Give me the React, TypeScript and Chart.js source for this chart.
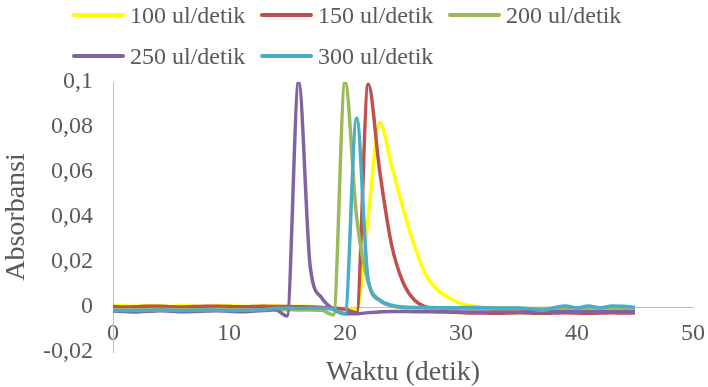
import React, { useEffect, useRef } from "react";
import { Chart, registerables } from "chart.js";

Chart.register(...registerables);

const times = [
  0, 1, 2, 3, 4, 5, 6, 7, 8, 9, 10, 11, 12, 13, 14, 15, 16, 17, 18, 19, 20, 21, 22,
  23, 24, 25, 26, 27, 28, 29, 30, 31, 32, 33, 34, 35, 36, 37, 38, 39, 40, 41, 42, 43, 44, 45,
];

const seriesNames = ["100 ul/detik", "150 ul/detik", "200 ul/detik", "250 ul/detik", "300 ul/detik"];
const seriesColors = ["#FFFF00", "#C0504D", "#9BBB59", "#8064A2", "#4BACC6"];

const yellow100 = [
  0.0008, 0.0005, 0.0003, 0.0006, 0.0004, 0.0002, 0.0006, 0.0003, 0.0002, 0.0005,
  0.0006, 0.0003, 0.0002, 0.0005, 0.0004, 0.0002, 0.0003, 0.0002, 0.0, -0.0005,
  -0.001, -0.001, 0.04, 0.082, 0.063, 0.044, 0.027, 0.014, 0.0075, 0.004,
  0.0015, 0.0005, -0.0003, -0.0012, -0.0015, -0.0016, -0.0017, -0.0017, -0.0018, -0.0017,
  -0.0018, -0.0018, -0.0017, -0.0018, -0.0018, -0.0018,
];

const red150 = [
  0.0002, 0.0, 0.0001, 0.0003, 0.0003, 0.0001, 0.0, 0.0002, 0.0003, 0.0003,
  0.0002, 0.0001, 0.0002, 0.0003, 0.0002, 0.0002, 0.0001, 0.0, -0.0002, -0.0005,
  -0.001, -0.0025, 0.099, 0.06, 0.028, 0.011, 0.003, 0.0, -0.0015, -0.0022,
  -0.0025, -0.0027, -0.0027, -0.0028, -0.0027, -0.0026, -0.0027, -0.0028, -0.0027, -0.0026,
  -0.0027, -0.0028, -0.0027, -0.0026, -0.0027, -0.0027,
];

const green200 = [
  -0.0012, -0.0012, -0.0013, -0.0012, -0.0011, -0.0012, -0.0013, -0.0012, -0.0012, -0.0011,
  -0.0012, -0.0013, -0.0012, -0.0012, -0.0011, -0.0012, -0.0013, -0.0013, -0.0015, -0.0035,
  0.1, 0.04, 0.011, 0.003, 0.0005, -0.0003, -0.0004, -0.0005, -0.0005, -0.0005,
  -0.0005, -0.0005, -0.0006, -0.0006, -0.0006, -0.0006, -0.0007, -0.0007, -0.0006, -0.0006,
  -0.0006, -0.0006, -0.0006, -0.0006, -0.0006, -0.0006,
];

const purple250 = [
  -0.0018, -0.002, -0.0022, -0.0019, -0.0017, -0.0019, -0.0021, -0.002, -0.0018, -0.0017,
  -0.0019, -0.0021, -0.0019, -0.0016, -0.0012, -0.004, 0.1, 0.018, 0.004, -0.001,
  -0.003, -0.003, -0.0025, -0.0022, -0.002, -0.002, -0.0021, -0.0021, -0.0022, -0.0022,
  -0.0022, -0.0022, -0.0022, -0.0022, -0.0022, -0.0022, -0.0021, -0.0021, -0.0021, -0.0021,
  -0.0021, -0.0021, -0.0021, -0.0021, -0.0021, -0.0021,
];

const cyan300 = [
  -0.0015, -0.0015, -0.0016, -0.0015, -0.0014, -0.0015, -0.0016, -0.0015, -0.0014, -0.0015,
  -0.0016, -0.0015, -0.0014, -0.0012, -0.0006, -0.0005, -0.0005, -0.0005, -0.0006, -0.001,
  -0.003, 0.084, 0.012, 0.003, 0.0008, 0.0, -0.0002, -0.0002, -0.0003, -0.0003,
  -0.0003, -0.0002, -0.0003, -0.0004, -0.0004, -0.0004, -0.0008, -0.0015, -0.0003, 0.0005,
  -0.0004, 0.0004, -0.0003, 0.0004, 0.0003, -0.0002,
];

const seriesValues = [yellow100, red150, green200, purple250, cyan300];

const xAxisTitle = "Waktu (detik)";
const yAxisTitle = "Absorbansi";

const FONT = '"Liberation Serif", "Times New Roman", serif';
const TEXT = "#595959";
const AXIS = "#BFBFBF";

export default function App() {
  const canvasRef = useRef<HTMLCanvasElement | null>(null);

  useEffect(() => {
    if (!canvasRef.current) return;
    const datasets = seriesNames.map((name, i) => ({
      label: name,
      data: times.map((t, j) => ({ x: t, y: seriesValues[i][j] })),
      borderColor: seriesColors[i],
      backgroundColor: seriesColors[i],
      borderWidth: 3.5,
      pointRadius: 0,
      fill: false,
      cubicInterpolationMode: "monotone" as const,
      order: seriesNames.length - 1 - i,
    }));

    const chart = new Chart(canvasRef.current, {
      type: "line",
      data: { datasets },
      options: {
        animation: false,
        responsive: true,
        maintainAspectRatio: false,
        layout: { padding: { top: 82, right: 15, bottom: 35, left: 0 } },
        plugins: { legend: { display: false }, tooltip: { enabled: false } },
        scales: {
          x: {
            type: "linear",
            min: 0,
            max: 50,
            position: { y: 0 } as any,
            grid: { display: false, drawTicks: false },
            border: { display: true, color: AXIS, width: 1 },
            ticks: {
              stepSize: 10,
              padding: 12,
              color: TEXT,
              font: { family: FONT, size: 24 },
              maxRotation: 0,
              callback: (v: any) => String(v),
            },
            title: {
              display: true,
              text: xAxisTitle,
              color: TEXT,
              font: { family: FONT, size: 28, lineHeight: 1.2 },
              padding: { top: 0, bottom: -47 },
            },
            afterFit: (scale: any) => {
              scale.height = 35;
              scale.paddingLeft = 0;
              scale.paddingRight = 0;
            },
          },
          y: {
            type: "linear",
            min: -0.02,
            max: 0.1,
            grid: { display: false, drawTicks: false },
            border: { display: true, color: AXIS, width: 1 },
            ticks: {
              stepSize: 0.02,
              padding: 20,
              color: TEXT,
              font: { family: FONT, size: 24 },
              callback: (v: any) => Number(Number(v).toFixed(2)).toString().replace(".", ","),
            },
            title: {
              display: true,
              text: yAxisTitle,
              color: TEXT,
              font: { family: FONT, size: 28, lineHeight: 1.2 },
              padding: { top: 0, bottom: 0 },
            },
            afterFit: (scale: any) => {
              scale.width = 113;
              scale.paddingTop = 0;
              scale.paddingBottom = 0;
            },
          },
        },
      },
    });
    return () => chart.destroy();
  }, []);

  const legendRows = [
    [0, 1, 2],
    [3, 4],
  ];
  const rowTops = [3, 44];

  return (
    <div style={{ position: "absolute", left: 0, top: 0, width: 708, height: 387, background: "#fff" }}>
      <canvas ref={canvasRef} />
      {legendRows.map((row, r) =>
        row.map((idx, c) => (
          <div
            key={idx}
            style={{
              position: "absolute",
              left: 72 + c * 188,
              top: rowTops[r],
              height: 24,
              display: "flex",
              alignItems: "center",
              fontFamily: FONT,
              fontSize: 24,
              lineHeight: "24px",
              color: TEXT,
              whiteSpace: "nowrap",
            }}
          >
            <span
              style={{
                display: "inline-block",
                width: 53,
                height: 4,
                borderRadius: 2,
                background: seriesColors[idx],
                marginRight: 5,
              }}
            />
            <span>{seriesNames[idx]}</span>
          </div>
        ))
      )}
    </div>
  );
}
